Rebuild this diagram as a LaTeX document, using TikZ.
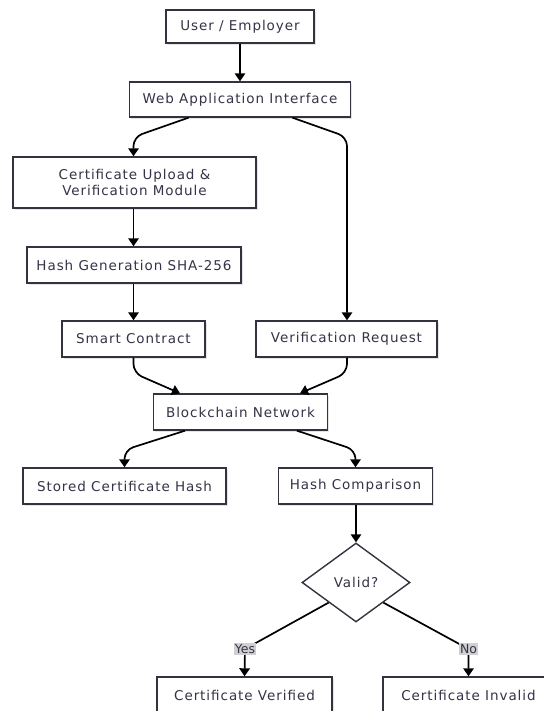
\documentclass[tikz,border=0pt]{standalone}
\usepackage{fontspec}
\setmainfont{DejaVu Sans}
\newfontfamily\labelfont[LetterSpace=7]{DejaVu Sans}
\usetikzlibrary{arrows.meta,shapes.geometric,shadows}
\definecolor{edgecol}{RGB}{51,51,64}
\definecolor{txtcol}{RGB}{52,52,72}
\definecolor{lblbg}{RGB}{208,208,208}
\tikzset{
  box/.style={draw=edgecol, line width=1.4pt, fill=white, text=txtcol,
    font=\labelfont\fontsize{13.5}{16}\selectfont, align=center, inner sep=0pt,
    general shadow={shadow xshift=1.6pt, shadow yshift=-1.6pt, fill=black!10}},
  decision/.style={diamond, draw=edgecol, line width=1.4pt, fill=white, text=txtcol,
    font=\labelfont\fontsize{13.5}{16}\selectfont, inner sep=0pt, aspect=1.37,
    minimum width=108pt, minimum height=79pt},
  link/.style={line width=1.7pt, -{Triangle[length=8pt,width=10.5pt]}, rounded corners=9pt},
  choice/.style={fill=lblbg, text=txtcol, font=\fontsize{12.5}{13}\selectfont,
    inner sep=1.2pt}
}
\begin{document}
\begin{tikzpicture}[x=1pt, y=-1pt]
\useasboundingbox (0,0) rectangle (543,711);

% process nodes
\node[box, minimum width=148pt, minimum height=33pt] (user) at (240,26.5) {User / Employer};
\node[box, minimum width=221pt, minimum height=35pt] (web) at (240,99.5) {Web Application Interface};
\node[box, minimum width=243pt, minimum height=51pt] (upload) at (134.5,182.5) {Certificate Upload \&\\Verification Module};
\node[box, minimum width=214pt, minimum height=36pt] (hash) at (134,265) {Hash Generation SHA-256};
\node[box, minimum width=143pt, minimum height=36pt] (smart) at (133.5,339) {Smart Contract};
\node[box, minimum width=181pt, minimum height=36pt] (vreq) at (346.5,339) {Verification Request};
\node[box, minimum width=174pt, minimum height=36pt] (chain) at (240.5,412) {Blockchain Network};
\node[box, minimum width=203pt, minimum height=36pt] (stored) at (124.5,486) {Stored Certificate Hash};
\node[box, minimum width=154pt, minimum height=36pt] (comp) at (355.5,486) {Hash Comparison};
\node[decision] (valid) at (356,582.5) {Valid?};
\node[box, minimum width=175pt, minimum height=36pt] (verified) at (244.5,695) {Certificate Verified};
\node[box, minimum width=171pt, minimum height=36pt] (invalid) at (468.5,695) {Certificate Invalid};

% connectors
\draw[link] (user) -- (web);
\draw[link] ([xshift=-51.5pt]web.south) -- (133.5,137) -- (upload.north -| 133.5,0);
\draw[link] ([xshift=52.5pt]web.south) -- (347,137) -- (vreq.north -| 347,0);
\draw[link] (upload.south -| 133.5,0) -- (hash.north -| 133.5,0);
\draw[link] (hash.south -| 133.5,0) -- (smart.north);
\draw[link] (smart.south) -- (133.5,373) -- ([xshift=-60.5pt]chain.north);
\draw[link] (vreq.south -| 347,0) -- (347,373) -- ([xshift=59.5pt]chain.north);
\draw[link] ([xshift=-55.5pt]chain.south) -- (124.5,450) -- (stored.north);
\draw[link] ([xshift=56.5pt]chain.south) -- (355.5,450) -- (comp.north);
\draw[link] (comp.south -| valid.north) -- (valid.north);

\coordinate (yesbend) at (245,649);
\coordinate (nobend) at (468.5,649);
\draw[link, rounded corners=0pt] (valid.south west) -- (yesbend) -- (verified.north);
\draw[link, rounded corners=0pt] (valid.south east) -- (nobend) -- (invalid.north);
\node[choice] (yes) at (yesbend) {Yes};
\node[choice] (no) at (nobend) {No};
\end{tikzpicture}
\end{document}
